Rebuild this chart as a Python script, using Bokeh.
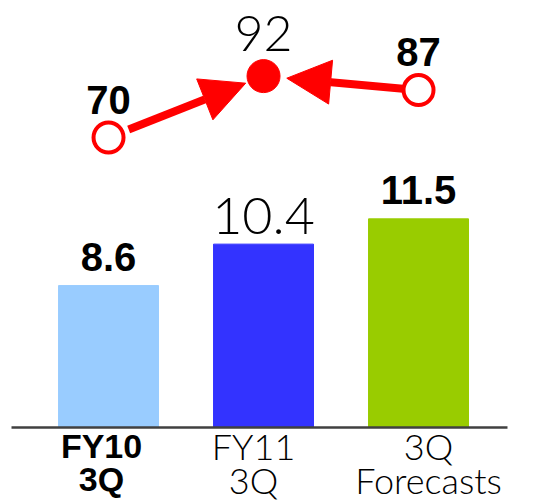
from bokeh.plotting import figure
from bokeh.models import Range1d, Arrow, NormalHead, ColumnDataSource
from bokeh.core.properties import value
from bokeh.embed import file_html
from bokeh.resources import INLINE

# --- data ---------------------------------------------------------------
categories = ["FY10\n3Q", "FY11\n3Q", "3Q\nForecasts"]
bar_values = [8.6, 10.4, 11.5]
bar_colors = ["#99CCFF", "#3333FF", "#99CC00"]
line_values = [70, 92, 87]

x = list(range(len(categories)))

BOLD = value("Liberation Sans")
LIGHT = value("Lato Light")

p = figure(width=551, height=502, output_backend="svg", toolbar_location=None,
           x_range=Range1d(-0.697, 2.858), y_range=Range1d(-0.83, 20.99),
           min_border=0, outline_line_color=None)
p.axis.visible = False
p.grid.visible = False
p.background_fill_color = "white"
p.border_fill_color = "white"

# secondary scale for the line series
p.extra_y_ranges = {"line": Range1d(-60.8, 119.1)}

baseline = 2.43  # value where the bars stand on the axis line

bars = ColumnDataSource(dict(x=x, top=bar_values, color=bar_colors))
p.vbar(x="x", top="top", bottom=baseline, width=0.645, color="color", source=bars)

# axis line
p.segment(x0=-0.626, y0=baseline, x1=2.574, y1=baseline,
          line_color="#404040", line_width=2.5)

# bar value labels (first and last bold, middle light)
for i, v in enumerate(bar_values):
    light = (i == 1)
    p.text(x=[x[i]], y=[v], text=[f"{v:.1f}"],
           text_font=LIGHT if light else BOLD,
           text_font_style="normal" if light else "bold",
           text_font_size="52px" if light else "40px",
           text_align="center", text_baseline="alphabetic",
           y_offset=-28 if light else -29, text_color="black")

# category labels
label_shift = [-7, -10, 10]
for i, c in enumerate(categories):
    light = (i != 0)
    p.text(x=[x[i]], y=[baseline], text=[c],
           text_font=LIGHT if light else BOLD,
           text_font_style="normal" if light else "bold",
           text_font_size="36px" if light else "34px",
           text_align="center", text_baseline="top",
           text_line_height=0.76 if light else 0.86,
           x_offset=label_shift[i], y_offset=-3 if light else 0, text_color="black")

# line markers: start / end open, current filled
red = "#FF0000"
p.scatter(x=[x[0], x[2]], y=[line_values[0], line_values[2]], y_range_name="line",
          size=30, marker="circle", fill_color="white", line_color=red, line_width=4)
p.scatter(x=[x[1]], y=[line_values[1]], y_range_name="line",
          size=33, marker="circle", fill_color=red, line_color=red)


def lerp(a, b, t):
    return a + (b - a) * t


# arrows converge on the filled marker
for src, f0, f1 in [(0, 0.13, 0.885), (2, 0.10, 0.85)]:
    dst = 1
    p.add_layout(Arrow(
        end=NormalHead(size=44, fill_color=red, line_color=red),
        x_start=lerp(x[src], x[dst], f0), y_start=lerp(line_values[src], line_values[dst], f0),
        x_end=lerp(x[src], x[dst], f1), y_end=lerp(line_values[src], line_values[dst], f1),
        line_color=red, line_width=8, y_range_name="line"))

# line value labels
for i, v in enumerate(line_values):
    light = (i == 1)
    p.text(x=[x[i]], y=[v], y_range_name="line", text=[str(v)],
           text_font=LIGHT if light else BOLD,
           text_font_style="normal" if light else "bold",
           text_font_size="50px" if light else "40px",
           text_align="center", text_baseline="alphabetic",
           y_offset=-43 if light else -38, text_color="black")

open("out.html", "w").write(file_html(p, INLINE))
